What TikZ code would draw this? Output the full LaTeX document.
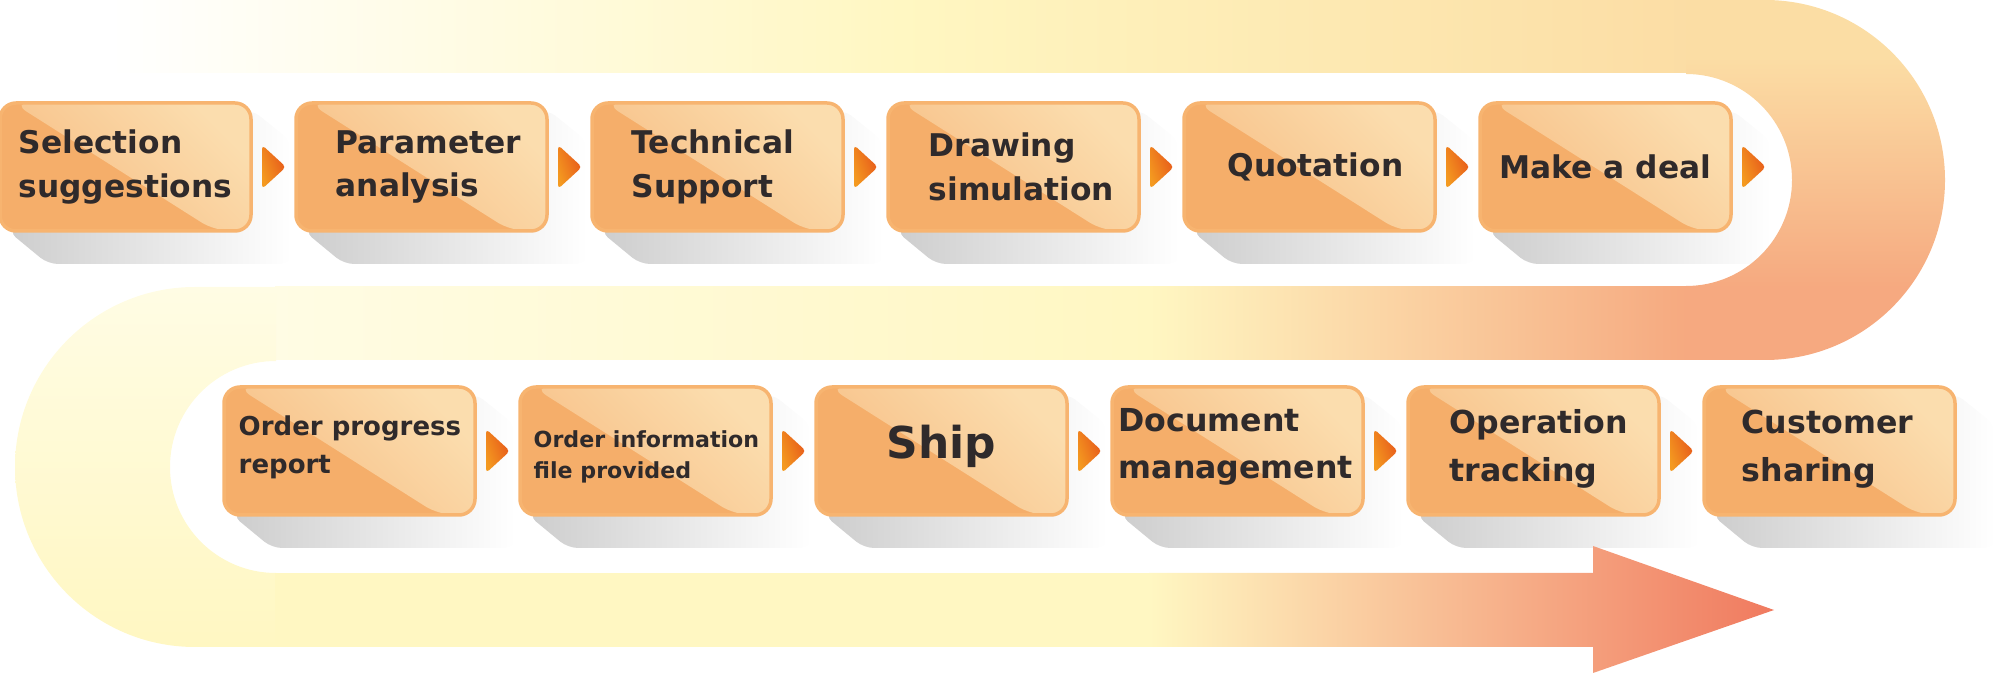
\documentclass[tikz,border=0pt]{standalone}
\usepackage{fontspec}
\setmainfont{DejaVu Sans}
\usetikzlibrary{positioning}
\pgfdeclarelayer{bg}
\pgfsetlayers{bg,main}
\definecolor{boxfill}{HTML}{F5AE6A}
\definecolor{boxlight}{HTML}{FBDDAE}
\definecolor{boxmid}{HTML}{F7BD83}
\definecolor{boxrim}{HTML}{F7B470}
\definecolor{inkdark}{HTML}{2F2A2B}
\definecolor{ptrorange}{HTML}{F49A20}
\definecolor{ptrred}{HTML}{E6551A}
\definecolor{shadowgray}{HTML}{CDCDCD}
\definecolor{bandcream}{HTML}{FFFCE4}
\definecolor{bandyellow}{HTML}{FFF7C2}
\definecolor{bandpeach}{HTML}{FCE2A8}
\definecolor{bandsalmon}{HTML}{F5A47C}
\definecolor{arrowred}{HTML}{F07A5F}
\colorlet{arctop}{bandpeach!92!bandsalmon}
\colorlet{arcfoot}{bandsalmon!92!bandpeach}
\pgfdeclareverticalshading{arcshade}{100bp}{color(0bp)=(bandsalmon); color(25bp)=(arcfoot);
  color(35bp)=(arcfoot); color(67bp)=(arctop); color(100bp)=(arctop)}
\tikzset{
  stepbox/.style={rectangle, rounded corners=1.6mm, minimum width=25.1mm, minimum height=12.8mm,
    inner sep=0pt, outer sep=0pt, draw=boxrim, line width=0.35mm, fill=boxfill,
    path picture={\shade[left color=boxmid, right color=boxlight, shading angle=135]
      ([xshift=1.3mm]path picture bounding box.north west) -- (path picture bounding box.north east)
      -- (path picture bounding box.south east) -- ([xshift=21.5mm]path picture bounding box.south west) -- cycle;}},
  steptext/.style={align=left, inner sep=0pt, text=inkdark, font=\bfseries\fontsize{8.9pt}{12.5pt}\selectfont},
  pointer/.style={left color=ptrorange, right color=ptrred, shading angle=110, rounded corners=0.4mm},
  boxshadow/.style={left color=shadowgray, middle color=black!8, right color=white, rounded corners=1mm}
}
\begin{document}
\begin{tikzpicture}[x=0.1mm, y=0.1mm]
\useasboundingbox (0,0) rectangle (1996,675);

% top row
\node[stepbox] (s1) at (125.5,508) {};
\foreach \i [count=\j from 1] in {2,...,6}
    \node[stepbox, right=4.5mm of s\j] (s\i) {};
% bottom row
\node[stepbox] (s7) at (349.5,224) {};
\foreach \i [count=\j from 7] in {8,...,12}
    \node[stepbox, right=4.5mm of s\j] (s\i) {};

\begin{pgfonlayer}{bg}
% shadows
\foreach \k in {1,...,12}
    \shade[boxshadow] ([xshift=0.8mm]s\k.south west) -- ([shift={(48,-33)}]s\k.south west)
        -- ([shift={(40,-33)}]s\k.south east) -- ([shift={(40,-38)}]s\k.north east)
        -- ([yshift=-0.6mm]s\k.north east) -- cycle;
% winding band
\shade[left color=white, right color=bandyellow] (110,602) rectangle (900,675);
\shade[left color=bandyellow, middle color=bandyellow, right color=arctop] (899,602) rectangle (1687,675);
\shade[shading=arcshade] (1686,675) -- (1765,675)
    arc[start angle=90, end angle=-90, radius=180] -- (1686,315) -- (1686,389)
    arc[start angle=-90, end angle=90, radius=106] -- cycle;
\shade[left color=bandcream, right color=bandyellow] (275,315) rectangle (1150,388);
\shade[left color=bandyellow, right color=arcfoot] (1149,315) rectangle (1687,388);
\shade[top color=bandcream, bottom color=bandyellow] (276,388) -- (195,388)
    arc[start angle=90, end angle=270, radius=180] -- (276,28) -- (276,102)
    arc[start angle=270, end angle=90, radius=106] -- cycle;
\fill[bandyellow] (275,28) rectangle (1150,102);
\shade[left color=bandyellow, right color=arrowred]
    (1149,28) -- (1593,28) -- (1593,2) -- (1774,65) -- (1593,129) -- (1593,102) -- (1149,102) -- cycle;
\end{pgfonlayer}

% pointers
\foreach \k in {1,...,11}
    \shade[pointer] ([shift={(11,22)}]s\k.east) -- ++(24,-22) -- ++(-24,-22) -- cycle;

\node[steptext, anchor=west] (l1) at ([xshift=1.8mm]s1.west) {Selection\\suggestions};
\node[steptext, anchor=west] (l2) at ([xshift=3.9mm]s2.west) {Parameter\\analysis};
\node[steptext, anchor=west] (l3) at ([xshift=3.9mm]s3.west) {Technical\\Support};
\node[steptext, anchor=west] (l4) at ([xshift=4mm]s4.west) {Drawing\\simulation};
\node[steptext] (l5) at ([xshift=0.6mm]s5.center) {Quotation};
\node[steptext] (l6) at (s6.center) {Make a deal};
\node[steptext, anchor=west, font=\bfseries\fontsize{7.4pt}{10.8pt}\selectfont] (l7) at ([shift={(14,4)}]s7.west) {Order progress\\report};
\node[steptext, anchor=west, font=\bfseries\fontsize{6.3pt}{9pt}\selectfont] (l8) at ([shift={(13,-6)}]s8.west) {Order information\\file provided};
\node[steptext, font=\bfseries\fontsize{12.5pt}{15pt}\selectfont] (l9) at ([yshift=0.5mm]s9.center) {Ship};
\node[steptext, anchor=west, font=\bfseries\fontsize{9pt}{13.4pt}\selectfont] (l10) at ([shift={(6,4)}]s10.west) {Document\\management};
\node[steptext, anchor=west, font=\bfseries\fontsize{9pt}{13.5pt}\selectfont] (l11) at ([shift={(41,2)}]s11.west) {Operation\\tracking};
\node[steptext, anchor=west, font=\bfseries\fontsize{9pt}{13.5pt}\selectfont] (l12) at ([shift={(37,2)}]s12.west) {Customer\\sharing};
\end{tikzpicture}
\end{document}
